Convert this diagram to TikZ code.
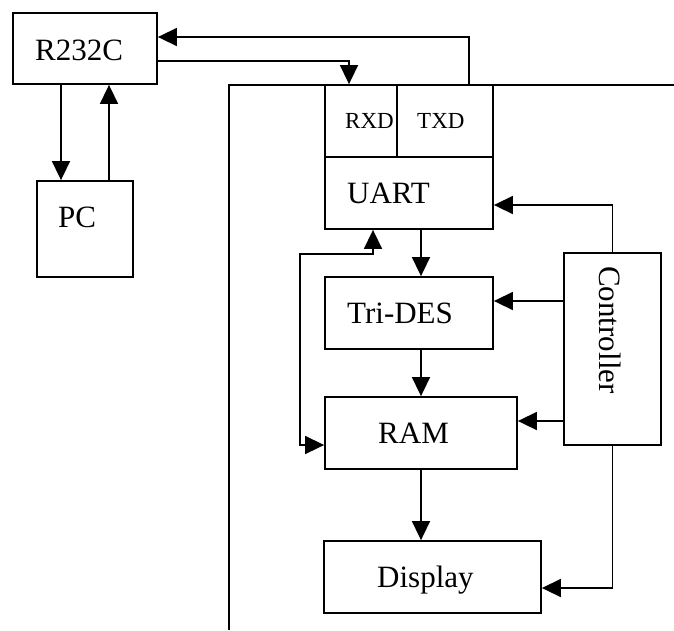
\documentclass[tikz,border=0pt]{standalone}
\usepackage{fontspec}
\setmainfont{Liberation Serif}
\usetikzlibrary{arrows.meta,calc}

\tikzset{
  blockbox/.style={draw, line width=1.8pt, rectangle, inner sep=0pt},
  bigtext/.style={font=\fontsize{31}{36}\selectfont, inner sep=0pt, anchor=base west},
  smalltext/.style={font=\fontsize{23}{27}\selectfont, inner sep=0pt, anchor=base west},
  conn/.style={line width=1.6pt, -{Triangle[length=19pt,width=18pt]}},
  dualconn/.style={line width=1.6pt, {Triangle[length=19pt,width=18pt]}-{Triangle[length=19pt,width=18pt]}},
  framepath/.style={line width=2.2pt},
}

\begin{document}
\begin{tikzpicture}[x=1pt, y=-1pt]
\useasboundingbox (0,0) rectangle (674,630);

% outer frame lines
\coordinate (fr-r) at (674,85);
\coordinate (fr-c) at (229,85);
\coordinate (fr-b) at (229,630);
\draw[framepath] (fr-r) -- (fr-c) -- (fr-b);

% blocks
\node[blockbox, minimum width=144pt, minimum height=71pt] (r232c) at (85,48.5) {};
\node[blockbox, minimum width=96pt,  minimum height=96pt] (pc)    at (85,229) {};
\node[blockbox, minimum width=72pt,  minimum height=72pt] (rxd)   at (361,121) {};
\node[blockbox, minimum width=96pt,  minimum height=72pt] (txd)   at (445,121) {};
\node[blockbox, minimum width=168pt, minimum height=72pt] (uart)  at (409,193) {};
\node[blockbox, minimum width=168pt, minimum height=72pt] (tdes)  at (409,313) {};
\node[blockbox, minimum width=192pt, minimum height=72pt] (ram)   at (421,433) {};
\node[blockbox, minimum width=217pt, minimum height=72pt] (disp)  at (432.5,577) {};
\node[blockbox, minimum width=97pt,  minimum height=192pt] (ctrl) at (612.5,349) {};

% labels
\node[bigtext]   (r232c-t) at (35,60)   {R232C};
\node[bigtext]   (pc-t)    at (58,227)  {PC};
\node[smalltext] (rxd-t)   at (345,128) {RXD};
\node[smalltext] (txd-t)   at (417,128) {TXD};
\node[bigtext]   (uart-t)  at (347,203) {UART};
\node[bigtext]   (tdes-t)  at (347,323) {Tri-DES};
\node[bigtext]   (ram-t)   at (378,443) {RAM};
\node[bigtext]   (disp-t)  at (377,587) {Display};
\node[font=\fontsize{31}{36}\selectfont, inner sep=0pt, rotate=-90] (ctrl-t) at (610,330) {Controller};

% serial link
\draw[conn] ([yshift=-12.5pt]r232c.east) -| ([xshift=-12pt]rxd.north);
\draw[conn] ([xshift=24pt]txd.north) |- ([yshift=11.5pt]r232c.east);
\draw[conn] ([xshift=-24pt]r232c.south) -- ([xshift=-24pt]pc.north);
\draw[conn] ([xshift=24pt]pc.north) -- ([xshift=24pt]r232c.south);

% data path
\draw[conn] ([xshift=12pt]uart.south) -- ([xshift=12pt]tdes.north);
\draw[conn] ([xshift=12pt]tdes.south) -- (ram.north);
\draw[conn] (ram.south) -- ([xshift=-11.5pt]disp.north);

% UART <-> RAM
\coordinate (u-low) at ([xshift=-36pt]uart.south);
\coordinate (r-in)  at ([yshift=-12pt]ram.west);
\coordinate (bend)  at ($(u-low)+(0,24)$);
\draw[dualconn] (r-in) -- ++(-24,0) |- (bend) -- (u-low);

% controller outputs
\coordinate (c-uart) at ([yshift=-12pt]uart.east);
\coordinate (c-tdes) at ([yshift=12pt]tdes.east);
\coordinate (c-ram)  at ([yshift=12pt]ram.east);
\coordinate (c-disp) at ([yshift=-11pt]disp.east);
\draw[conn] (ctrl.north) |- (c-uart);
\draw[conn] (c-tdes -| ctrl.west) -- (c-tdes);
\draw[conn] (c-ram -| ctrl.west) -- (c-ram);
\draw[conn] (ctrl.south) |- (c-disp);
\end{tikzpicture}
\end{document}
